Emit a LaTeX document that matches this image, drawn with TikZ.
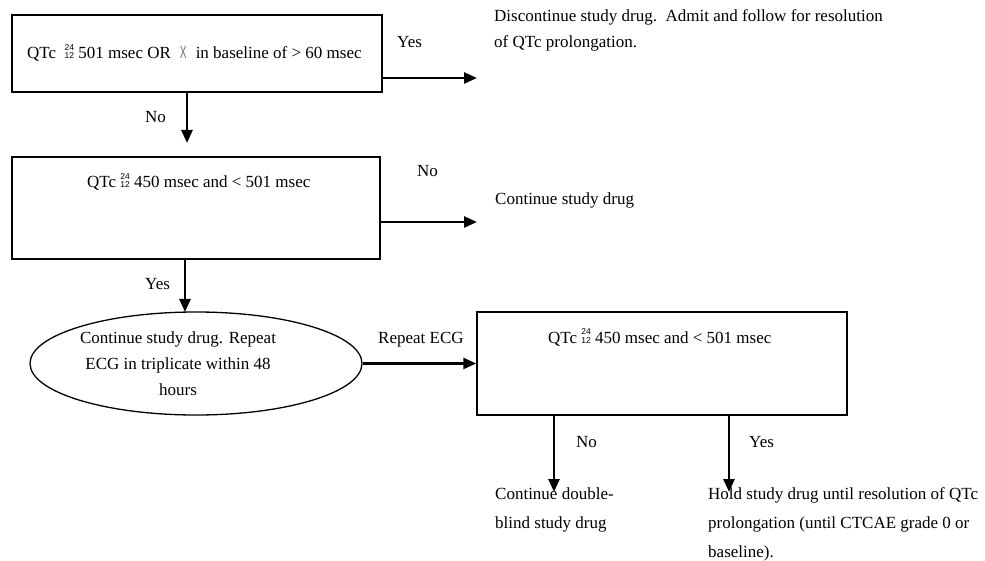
\documentclass[tikz,border=0pt]{standalone}
\usepackage{fontspec}
\setmainfont{Liberation Serif}
\setsansfont{Liberation Sans}
\usetikzlibrary{arrows.meta,shapes.geometric}
\newcommand\oddge{\raisebox{0pt}{\sffamily\fontsize{8.5}{7.5}\selectfont\begin{tabular}[b]{@{}c@{}}24\\12\end{tabular}}}
\newcommand\oddx{{\color{black!55}\sffamily\scalebox{0.6}[1.05]{X}}}
\tikzset{
  box/.style={draw, line width=1.5pt, rectangle, inner sep=0pt},
  oval/.style={draw, line width=1.3pt, ellipse, inner sep=0pt},
  txt/.style={inner sep=0pt, anchor=base west, font=\fontsize{17}{20}\selectfont},
  arr/.style={line width=2.6pt, -{Triangle[length=13pt,width=11pt]}},
}
\begin{document}
\begin{tikzpicture}[x=1pt,y=-1pt]
\useasboundingbox (0,0) rectangle (985,561);
% boxes
\node[box, minimum width=370pt, minimum height=77pt] (b1) at (197,53.5) {};
\node[box, minimum width=368pt, minimum height=102pt] (b2) at (196,208) {};
\node[box, minimum width=370pt, minimum height=103pt] (b3) at (662,363.5) {};
\node[oval, minimum width=332pt, minimum height=103pt] (e) at (196,363.5) {};
% box texts
\node[txt] (t1) at (27,59) {QTc \ \oddge\ 501 msec OR\hspace{9pt}\oddx\hspace{9pt}in baseline of > 60 msec};
\node[txt] (t2) at (87,188) {QTc \oddge\ 450 msec and < 501 msec};
\node[txt] (t3) at (548,343) {QTc \oddge\ 450 msec and < 501 msec};
\node[txt, anchor=base, align=center, font=\fontsize{17}{26}\selectfont] (te) at (178,395)
  {Continue study drug. Repeat\\ECG in triplicate within 48\\hours};
% outcome texts
\node[txt, align=left, font=\fontsize{17}{26}\selectfont] (o1) at (494,48)
  {Discontinue study drug.\ \ Admit and follow for resolution\\of QTc prolongation.};
\node[txt] (o2) at (495,205) {Continue study drug};
\node[txt, align=left, font=\fontsize{17}{29}\selectfont] (o3) at (495,528)
  {Continue double-\\blind study drug};
\node[txt, align=left, font=\fontsize{17}{29}\selectfont] (o4) at (708,557)
  {Hold study drug until resolution of QTc\\prolongation (until CTCAE grade 0 or\\baseline).};
% connector ends
\coordinate (c1) at (477,78);
\coordinate (c2) at (187,143);
\coordinate (c3) at (477,222);
\coordinate (c4) at (554,492);
\coordinate (c5) at (729,492);
% connectors
\draw[arr] (b1.east |- c1) -- (c1);
\draw[arr] (b1.south -| c2) -- (c2);
\draw[arr] (b2.east |- c3) -- (c3);
\draw[arr] (b2.south -| 185,0) -- (185,312);
\draw[arr] (e.east) -- (b3.west);
\draw[arr] (b3.south -| c4) -- (c4);
\draw[arr] (b3.south -| c5) -- (c5);
% labels
\node[txt] (l1) at (397,48) {Yes};
\node[txt] (l2) at (145,123) {No};
\node[txt] (l3) at (417,177) {No};
\node[txt] (l4) at (145,290) {Yes};
\node[txt] (l5) at (378,343) {Repeat ECG};
\node[txt] (l6) at (576,447) {No};
\node[txt] (l7) at (749,447) {Yes};
\end{tikzpicture}
\end{document}
